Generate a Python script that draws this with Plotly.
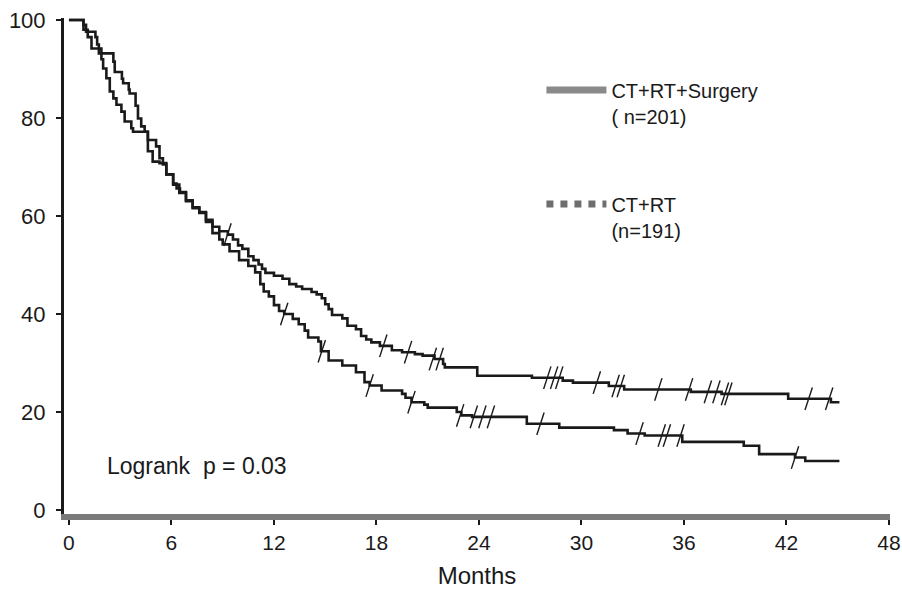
import plotly.graph_objects as go

# ---------------- data ----------------
month_ticks = [0, 6, 12, 18, 24, 30, 36, 42, 48]
pct_ticks = [0, 20, 40, 60, 80, 100]

surg_name = "CT+RT+Surgery<br>( n=201)"
rt_name = "CT+RT<br>(n=191)"

# CT+RT+Surgery step curve (time in months, survival %)
surg_t = [0, 0.85, 1.0, 1.55, 1.65, 1.75, 2.6, 2.68, 3.1, 3.17, 3.5, 3.55, 3.9, 4.04,
          4.23, 4.43, 4.62, 5.1, 5.3, 5.5, 5.7, 6.1, 6.3, 6.5, 6.85, 7.24, 7.63, 8.02,
          8.4, 8.8, 9.3, 9.6, 9.9, 10.15, 10.5, 10.8, 11.1, 11.3, 11.5, 12.0, 12.5,
          12.9, 13.3, 13.65, 14.2, 14.5, 14.8, 15.0, 15.2, 15.4, 16.0, 16.3, 16.8,
          17.1, 17.4, 17.7, 18.2, 18.9, 19.5, 20.25, 20.7, 21.4, 21.9, 22.0, 23.9,
          27.1, 28.9, 29.5, 31.6, 32.5, 36.4, 38.2, 42.1, 44.6, 45.1]
surg_s = [100, 99.0, 97.6, 96.5, 95.0, 93.2, 91.5, 89.4, 88.0, 87.1, 85.8, 85.0, 82.5, 79.9,
          78.3, 77.2, 75.5, 74.2, 71.8, 70.5, 68.5, 66.6, 65.6, 64.9, 63.2, 61.8, 60.8, 59.2,
          57.8, 56.9, 56.2, 55.2, 54.0, 53.3, 51.8, 51.0, 50.1, 49.2, 48.4, 47.8, 47.2,
          46.1, 45.6, 45.1, 44.5, 44.0, 43.2, 42.0, 41.0, 39.8, 39.1, 37.6, 36.9,
          35.5, 34.8, 34.2, 33.5, 32.6, 32.2, 31.8, 31.5, 30.8, 29.8, 29.1, 27.4,
          27.0, 26.4, 26.0, 25.3, 24.6, 24.1, 23.7, 22.7, 22.0, 22.0]
surg_cens_t = [9.28, 18.4, 19.85, 21.3, 21.7, 28.0, 28.4, 28.7, 30.9, 32.0, 32.3,
               34.5, 36.3, 37.4, 37.9, 38.4, 38.6, 43.3, 44.5]
surg_cens_s = [56.2, 33.5, 32.2, 30.8, 30.8, 27.0, 27.0, 27.0, 26.0, 25.3, 25.3,
               24.6, 24.6, 24.1, 24.1, 23.7, 23.7, 22.7, 22.7]

# CT+RT step curve
rt_t = [0, 0.85, 1.1, 1.32, 1.9, 2.0, 2.19, 2.39, 2.6, 2.78, 3.07, 3.26, 3.65, 3.75,
        4.62, 4.9, 5.3, 5.7, 6.1, 6.46, 6.85, 7.24, 7.63, 8.02, 8.4, 8.8, 9.0, 9.4,
        9.96, 10.5, 10.9, 11.2, 11.4, 11.7, 12.0, 12.3, 12.6, 13.1, 13.45, 13.8, 14.0,
        14.6, 14.75, 15.2, 16.0, 16.8, 17.3, 17.6, 18.3, 19.5, 19.7, 20.05, 20.8, 21.0,
        22.7, 22.97, 23.6, 26.8, 28.7, 31.9, 32.7, 33.7, 35.9, 39.5, 40.4, 42.5, 43.1, 45.1]
rt_s = [100, 98.0, 96.5, 94.2, 92.0, 90.1, 88.1, 85.4, 84.0, 82.7, 81.3, 79.3, 77.9, 77.2,
        73.2, 71.1, 70.8, 68.5, 66.4, 64.7, 63.0, 61.6, 60.6, 58.8, 56.5, 55.2, 54.2, 52.8,
        51.0, 49.8, 48.5, 46.1, 44.6, 43.6, 41.8, 40.6, 40.0, 39.0, 37.9, 36.6, 35.2,
        34.4, 32.4, 30.5, 29.5, 28.1, 26.1, 25.4, 24.4, 23.7, 22.9, 22.0, 21.5, 20.9,
        20.0, 19.3, 19.0, 17.6, 16.8, 16.3, 15.6, 15.2, 13.9, 13.1, 11.4, 10.7, 10.0, 10.0]
rt_cens_t = [12.6, 14.8, 17.6, 20.05, 22.9, 23.7, 24.2, 24.7, 27.6, 33.4, 34.7, 35.0,
             35.8, 42.5]
rt_cens_s = [40.0, 32.4, 25.4, 22.0, 19.3, 19.0, 19.0, 19.0, 17.6, 15.6, 15.2, 15.2,
             15.2, 10.7]

logrank_text = "Logrank  p = 0.03"

# ---------------- figure ----------------
FONT = "Liberation Sans, Arial, Helvetica, sans-serif"
INK = "#1a1a1a"

fig = go.Figure()

for t, s in [(surg_t, surg_s), (rt_t, rt_s)]:
    fig.add_trace(go.Scatter(x=t, y=s, mode="lines", line=dict(color=INK, width=2.6, shape="hv"),
                             showlegend=False, hoverinfo="skip"))

for t, s in [(surg_cens_t, surg_cens_s), (rt_cens_t, rt_cens_s)]:
    fig.add_trace(go.Scatter(x=t, y=s, mode="markers",
                             marker=dict(symbol="line-ns", size=17, angle=18,
                                         line=dict(color=INK, width=1.4)),
                             showlegend=False, hoverinfo="skip"))

# legend entries
fig.add_trace(go.Scatter(x=[None], y=[None], mode="lines", name=surg_name, legendgroup="a",
                         line=dict(color="#8a8a8a", width=7)))
fig.add_trace(go.Scatter(x=[None], y=[None], mode="lines", name=rt_name, legendgroup="b",
                         line=dict(color="#6e6e6e", width=7, dash="dot")))

fig.add_annotation(x=2.1, y=9.0, xref="x", yref="y", text=logrank_text, showarrow=False,
                   xanchor="left", yanchor="middle", font=dict(size=23, color=INK, family=FONT))

fig.update_layout(
    width=902, height=591,
    margin=dict(l=64, r=12, t=18, b=77, autoexpand=False),
    paper_bgcolor="white", plot_bgcolor="white",
    font=dict(family=FONT, size=22, color=INK),
    legend=dict(x=0.578, y=0.894, xanchor="left", yanchor="top", traceorder="grouped",
                tracegroupgap=59, valign="top", itemwidth=60,
                font=dict(size=20, color=INK, family=FONT), bgcolor="rgba(0,0,0,0)"),
    xaxis=dict(range=[-0.29, 48.06], tickvals=month_ticks, ticktext=[str(v) for v in month_ticks],
               showline=True, linecolor="#7a7a7a", linewidth=6, ticks="outside", ticklen=5,
               tickcolor=INK, tickwidth=1.5, showgrid=False, zeroline=False, automargin=False,
               ticklabeloverflow="allow", tickfont=dict(size=21, color=INK, family=FONT),
               title=dict(text="Months", font=dict(size=24, color=INK, family=FONT), standoff=16)),
    yaxis=dict(range=[-0.82, 100.41], tickvals=pct_ticks, ticktext=[str(v) for v in pct_ticks],
               showline=True, linecolor=INK, linewidth=3, ticks="outside", ticklen=5,
               tickcolor=INK, tickwidth=1.5, showgrid=False, zeroline=False, automargin=False,
               ticklabelstandoff=6, tickfont=dict(size=22, color=INK, family=FONT)),
)

fig.write_html("out.html")
